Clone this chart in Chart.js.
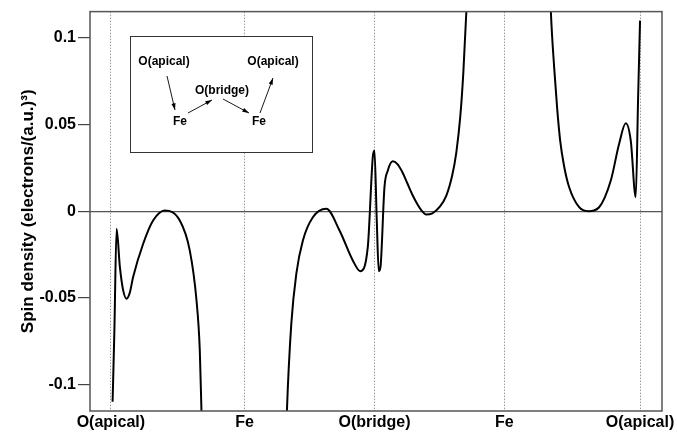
<!DOCTYPE html>
<html>
<head>
<meta charset="utf-8">
<script src="https://cdn.jsdelivr.net/npm/chart.js@4.4.1/dist/chart.umd.min.js"></script>
<style>
  html, body { margin: 0; padding: 0; background: #fff; }
  #wrap { width: 677px; height: 432px; }
</style>
</head>
<body>
<div id="wrap"><canvas id="chart" width="677" height="432"></canvas></div>
<script>
// atom positions along the path, and their labels
const atomPositions = [0, 1.011, 1.993, 2.974, 4.0];
const atomLabels = ['O(apical)', 'Fe', 'O(bridge)', 'Fe', 'O(apical)'];
const yTicks = [-0.1, -0.05, 0, 0.05, 0.1];

// spin density along the path (null = curve leaves the plot)
const distance = [
  0.0128, 0.0264, 0.043, 0.068, 0.0928, 0.1185, 0.143, 0.168, 0.244, 0.319, 0.4075,
  0.521, 0.596, 0.647, 0.672, 0.6845, 0.6906,
  null,
  1.3245, 1.3306, 1.3638, 1.4015, 1.4513, 1.5268, 1.628, 1.7283, 1.8287, 1.8845,
  1.9419, 1.9796, 1.9925, 2.0098, 2.0249, 2.0377, 2.0679, 2.0928, 2.1306, 2.1660,
  2.2038, 2.2415, 2.2792, 2.3170, 2.3472, 2.3826, 2.4302, 2.483, 2.5358, 2.5811,
  2.6113, 2.6415, 2.6642, 2.6868, 2.6930,
  null,
  3.3208, 3.326, 3.3509, 3.3736, 3.3962, 3.4264, 3.4642, 3.5396, 3.6098, 3.6906,
  3.7789, 3.8415, 3.8921, 3.9298, 3.9675, 3.9849, 4.0
];
const spinDensity = [
  -0.110, -0.0687, -0.0101, -0.0323, -0.0457, -0.0505, -0.0470, -0.038, -0.0188, -0.0054, 0.0004,
  -0.0054, -0.0226, -0.0514, -0.0803, -0.1152, -0.132,
  null,
  -0.132, -0.1152, -0.0649, -0.0361, -0.0169, -0.0035, 0.0014, -0.0111, -0.0284, -0.0346,
  -0.0207, 0.0311, 0.035, -0.0054, -0.0346, -0.0323, 0.0138, 0.0234, 0.0288, 0.0272,
  0.0225, 0.0160, 0.0095, 0.0040, 0.0005, -0.0019, -0.0012, 0.0023, 0.009, 0.021,
  0.034, 0.055, 0.080, 0.115, 0.127,
  null,
  0.127, 0.115, 0.0829, 0.0592, 0.0408, 0.0258, 0.0138, 0.0023, 0.0, 0.0023,
  0.0177, 0.0388, 0.0507, 0.0407, 0.0081, 0.0638, 0.110
];

const points = distance.map((x, i) => (x === null ? { x: NaN, y: null } : { x: x, y: spinDensity[i] }));

// frame around the plot and the inset sketch of the path
const framePlugin = {
  id: 'frame',
  afterDatasetsDraw(chart) {
    const ctx = chart.ctx;
    const a = chart.chartArea;
    ctx.save();
    ctx.strokeStyle = '#555';
    ctx.lineWidth = 1.5;
    ctx.strokeRect(a.left, a.top, a.right - a.left, a.bottom - a.top);

    // inset box
    ctx.fillStyle = '#fff';
    ctx.fillRect(130, 36, 183, 117);
    ctx.strokeStyle = '#333';
    ctx.lineWidth = 1;
    ctx.strokeRect(130.5, 36.5, 182, 116);

    ctx.fillStyle = '#000';
    ctx.font = 'bold 12px "Liberation Sans", Arial, sans-serif';
    ctx.textAlign = 'center';
    ctx.textBaseline = 'middle';
    ctx.fillText('O(apical)', 164, 62);
    ctx.fillText('O(apical)', 273, 62);
    ctx.fillText('O(bridge)', 222, 91);
    ctx.fillText('Fe', 180, 122);
    ctx.fillText('Fe', 259, 122);

    const arrow = (x1, y1, x2, y2) => {
      const ang = Math.atan2(y2 - y1, x2 - x1);
      ctx.beginPath();
      ctx.moveTo(x1, y1);
      ctx.lineTo(x2, y2);
      ctx.stroke();
      ctx.beginPath();
      ctx.moveTo(x2, y2);
      ctx.lineTo(x2 - 7 * Math.cos(ang - 0.3), y2 - 7 * Math.sin(ang - 0.3));
      ctx.lineTo(x2 - 7 * Math.cos(ang + 0.3), y2 - 7 * Math.sin(ang + 0.3));
      ctx.closePath();
      ctx.fill();
    };
    ctx.strokeStyle = '#000';
    ctx.lineWidth = 0.9;
    arrow(167, 76, 175, 110);
    arrow(188, 113, 212, 100);
    arrow(223, 99, 249, 113);
    arrow(260, 113, 273, 78);
    ctx.restore();
  }
};

new Chart(document.getElementById('chart'), {
  type: 'line',
  data: {
    datasets: [{
      data: points,
      borderColor: '#000',
      borderWidth: 2,
      pointRadius: 0,
      fill: false,
      spanGaps: false,
      cubicInterpolationMode: 'monotone'
    }]
  },
  options: {
    responsive: false,
    animation: false,
    layout: { padding: { left: 18, right: 15, top: 11, bottom: 0 } },
    plugins: { legend: { display: false }, tooltip: { enabled: false } },
    scales: {
      x: {
        type: 'linear',
        min: -0.158,
        max: 4.166,
        afterBuildTicks: scale => { scale.ticks = atomPositions.map(v => ({ value: v })); },
        afterFit: scale => { scale.height = 21; },
        ticks: {
          autoSkip: false,
          maxRotation: 0,
          padding: 2,
          color: '#000',
          font: { family: '"Liberation Sans", Arial, sans-serif', size: 16, weight: 'bold' },
          callback: (v, i) => atomLabels[i]
        },
        grid: { color: '#999', lineWidth: 1, drawTicks: false, borderDash: [1.5, 1.5] },
        border: { display: false, dash: [1.5, 1.5] }
      },
      y: {
        min: -0.1153,
        max: 0.1152,
        afterBuildTicks: scale => { scale.ticks = yTicks.map(v => ({ value: v })); },
        afterFit: scale => { scale.width = 72; },
        ticks: {
          padding: 2,
          color: '#000',
          font: { family: '"Liberation Sans", Arial, sans-serif', size: 16, weight: 'bold' },
          callback: v => String(v)
        },
        grid: {
          color: ctx => (ctx.tick && ctx.tick.value === 0 ? '#555' : 'rgba(0,0,0,0)'),
          tickColor: '#444',
          tickLength: 12,
          lineWidth: 1.2
        },
        border: { display: false },
        title: {
          display: true,
          text: 'Spin density (electrons/(a.u.)³)',
          color: '#000',
          padding: { top: 0, bottom: 0 },
          font: { family: '"Liberation Sans", Arial, sans-serif', size: 17, weight: 'bold' }
        }
      }
    }
  },
  plugins: [framePlugin]
});
</script>
</body>
</html>
